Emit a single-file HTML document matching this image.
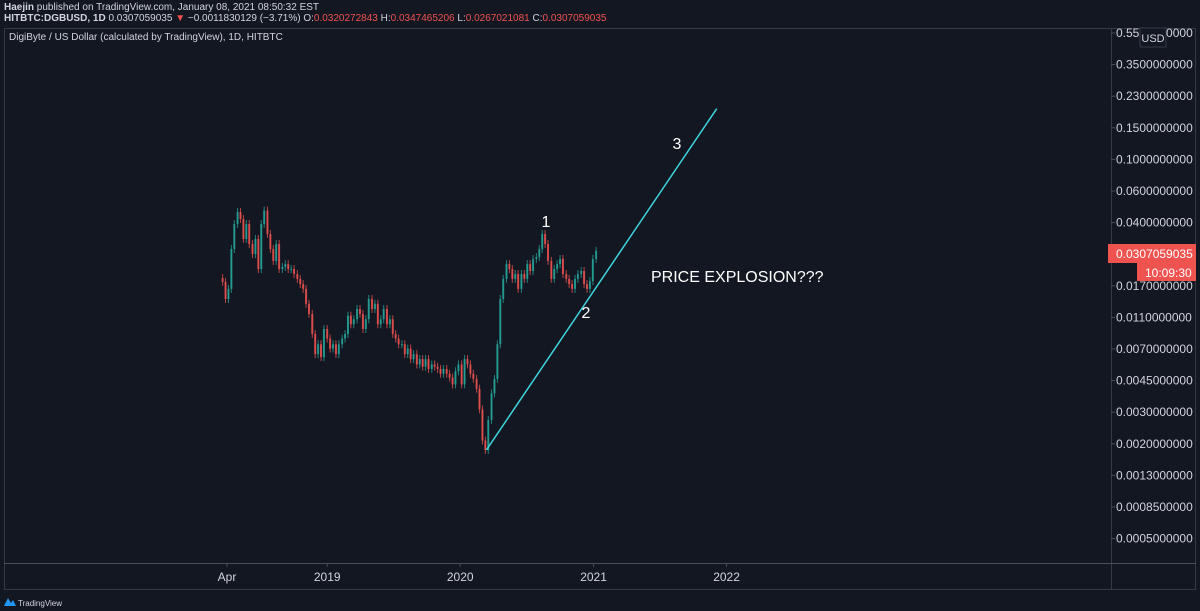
<!DOCTYPE html>
<html><head><meta charset="utf-8">
<style>
html,body{margin:0;padding:0;background:#131722;width:1200px;height:611px;overflow:hidden;font-family:"Liberation Sans",sans-serif;}
svg text{font-family:"Liberation Sans",sans-serif;}
</style></head>
<body>
<svg id="chart" width="1200" height="611" xmlns="http://www.w3.org/2000/svg">
<rect x="0" y="0" width="1200" height="611" fill="#131722"/>
<text x="4" y="10" font-size="10" fill="#d1d4dc"><tspan font-weight="bold">Haejin</tspan> published on TradingView.com, January 08, 2021 08:50:32 EST</text>
<text x="4" y="21" font-size="10" fill="#d1d4dc"><tspan font-weight="bold">HITBTC:DGBUSD, 1D</tspan> 0.0307059035 <tspan fill="#ef5350">▼</tspan> −0.0011830129 (−3.71%) O:<tspan fill="#ef5350">0.0320272843</tspan> H:<tspan fill="#ef5350">0.0347465206</tspan> L:<tspan fill="#ef5350">0.0267021081</tspan> C:<tspan fill="#ef5350">0.0307059035</tspan></text>
<rect x="4.5" y="28.5" width="1191" height="561" fill="none" stroke="#363a45"/>
<line x1="1111.5" y1="28" x2="1111.5" y2="590" stroke="#363a45"/>
<line x1="4" y1="563.5" x2="1196" y2="563.5" stroke="#4a4e59"/>
<text x="9" y="40" font-size="10" fill="#d1d4dc">DigiByte / US Dollar (calculated by TradingView), 1D, HITBTC</text>
<g id="yaxis"></g>
<g id="xaxis"></g>
<g id="candles"></g>
<g id="drawings"></g>
<rect x="1140" y="28" width="26" height="19" fill="#131722" stroke="#363a45"/>
<text x="1153" y="42" font-size="11" fill="#d1d4dc" text-anchor="middle">USD</text>
<rect x="1108" y="244" width="88" height="19" fill="#ef5350"/>
<text x="1116" y="258" font-size="12" fill="#fff">0.0307059035</text>
<rect x="1137" y="263" width="59" height="18" fill="#ef5350"/>
<text x="1145" y="277" font-size="12" fill="#fff">10:09:30</text>
<g><path d="M4 606 L8 598 L11 603 L13 600 L16 606 Z" fill="#2196f3"/><text x="18" y="606" font-size="8" fill="#d1d4dc">TradingView</text></g>
</svg>
<script>
const yTickLabels=["0.5500000000","0.3500000000","0.2300000000","0.1500000000","0.1000000000","0.0600000000","0.0400000000","0.0200000000","0.0170000000","0.0110000000","0.0070000000","0.0045000000","0.0030000000","0.0020000000","0.0013000000","0.0008500000","0.0005000000"];
const xTickLabels=["Apr","2019","2020","2021","2022"];
const xTickDates=["2018-04-01","2019-01-01","2020-01-01","2021-01-01","2022-01-01"];
const startDate="2018-03-20";
const stepDays=8.2;
const closes=[0.0205,0.0164,0.0187,0.0314,0.0435,0.0508,0.0464,0.0358,0.0435,0.0335,0.0294,0.0358,0.0242,0.0435,0.0518,0.0382,0.0314,0.0269,0.0335,0.0242,0.0249,0.0258,0.0242,0.0242,0.0227,0.0213,0.0199,0.0187,0.0154,0.0135,0.0104,0.0080,0.0091,0.0077,0.0111,0.0098,0.0086,0.0091,0.0080,0.0091,0.0098,0.0104,0.0132,0.0118,0.0126,0.0144,0.0135,0.0111,0.0126,0.0164,0.0144,0.0154,0.0118,0.0126,0.0144,0.0118,0.0126,0.0104,0.0098,0.0091,0.0091,0.0080,0.0086,0.0075,0.0080,0.0070,0.0075,0.0068,0.0075,0.0066,0.0070,0.0068,0.0066,0.0062,0.0066,0.0062,0.0059,0.0054,0.0064,0.0070,0.0054,0.0075,0.0070,0.0062,0.0058,0.0051,0.0039,0.0026,0.0023,0.0034,0.0048,0.0058,0.0091,0.0164,0.0213,0.0258,0.0242,0.0213,0.0227,0.0187,0.0227,0.0213,0.0258,0.0236,0.0276,0.0283,0.0314,0.0382,0.0335,0.0269,0.0213,0.0242,0.0258,0.0276,0.0227,0.0213,0.0199,0.0187,0.0213,0.0227,0.0236,0.0199,0.0187,0.0207,0.0276,0.0307];
const trendDates=["2020-03-13","2021-12-05"];
const trendPrices=[0.0023,0.195];

const NS="http://www.w3.org/2000/svg";
const t0=Date.parse("2018-04-01");
function xScale(d){return 227+(Date.parse(d)-t0)/86400000*133/365;}
function xIdx(i){return xScale(new Date(Date.parse(startDate)+i*stepDays*86400000).toISOString().slice(0,10));}
function yScale(v){return 160+177*Math.log10(0.1/v);}
function mk(tag,attrs,parent){const e=document.createElementNS(NS,tag);for(const k in attrs)e.setAttribute(k,attrs[k]);parent.appendChild(e);return e;}

const ya=document.getElementById('yaxis');
yTickLabels.forEach((l,i)=>{
  const y=33+i*31.6;
  const t=mk('text',{x:1116,y:y+4,'font-size':12,fill:'#d1d4dc'},ya);
  
  
  t.textContent=l;
  const tk=mk('line',{x1:1111,x2:1115,y1:y,y2:y,stroke:'#4a4e59'},ya);
  
  
});
const xa=document.getElementById('xaxis');
xTickLabels.forEach((l,i)=>{
  const x=xScale(xTickDates[i]);
  const t=mk('text',{x:x,y:581,'font-size':12,fill:'#d1d4dc','text-anchor':'middle'},xa);
  
  
  t.textContent=l;
  const tk=mk('line',{x1:x,x2:x,y1:563,y2:567,stroke:'#4a4e59'},xa);
  
  
});
const cg=document.getElementById('candles');
closes.forEach((c,i)=>{
  const o=i?closes[i-1]:c*1.05;
  const up=c>=o;const col=up?'#26a69a':'#ef5350';
  const x=xIdx(i);
  const yo=yScale(o),yc=yScale(c);
  const top=Math.min(yo,yc)-4,bot=Math.max(yo,yc)+4;
  const w=mk('line',{x1:x,x2:x,y1:top,y2:bot,stroke:col,'stroke-width':1,opacity:0.75},cg);
  
  
  const b=mk('rect',{x:x-1,y:Math.min(yo,yc),width:2,height:Math.max(1,Math.abs(yc-yo)),fill:col,opacity:0.8},cg);
  
  
});
const dg=document.getElementById('drawings');
const tl=mk('line',{x1:xScale(trendDates[0]),y1:yScale(trendPrices[0]),x2:xScale(trendDates[1]),y2:yScale(trendPrices[1]),stroke:'#3fd4dd','stroke-width':1.5},dg);


[["1",546,227,'wave-1-label'],["2",586,318,'wave-2-label'],["3",677,149,'wave-3-label'],["PRICE EXPLOSION???",651,282,'price-explosion-note']].forEach(a=>{
  const t=mk('text',{x:a[1],y:a[2],'font-size':16,fill:'#ffffff','text-anchor':a[0].length>1?'start':'middle'},dg);
  
  
  t.textContent=a[0];
});
</script>
</body></html>
